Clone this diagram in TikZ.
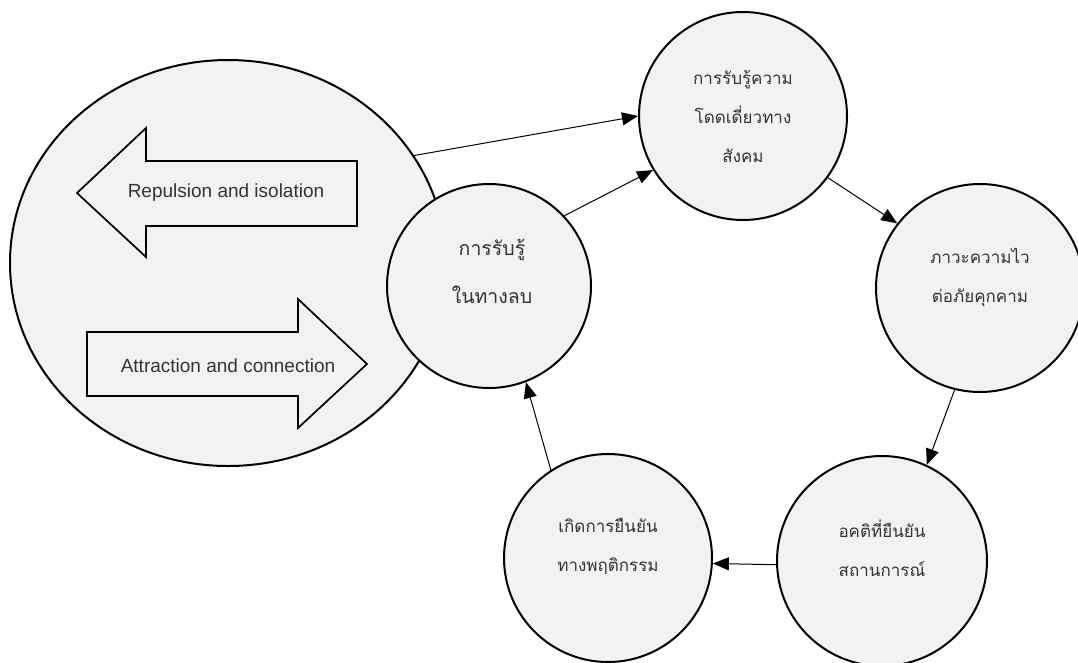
\documentclass[tikz,border=0pt]{standalone}
\usepackage{fontspec}
\setmainfont{Liberation Sans}
\newfontfamily\thai[Script=Thai]{Loma}
\usetikzlibrary{shapes.geometric,arrows.meta}
\definecolor{bubble}{HTML}{F2F2F2}
\definecolor{ink}{HTML}{333333}
\tikzset{
  stage/.style={circle, draw=black, line width=2pt, fill=bubble, minimum size=#1, inner sep=0pt},
  thaitext/.style={align=center, text=ink, font=\thai\fontsize{#1}{39}\selectfont, inner sep=0pt},
  flow/.style={line width=1pt, -{Triangle[length=16pt,width=13pt]}},
  blockarrow/.style={draw=black, line width=1.7pt, fill=bubble, line join=miter},
  arrowtext/.style={text=ink, font=\fontsize{19}{23}\selectfont, inner sep=0pt}
}
\begin{document}
\begin{tikzpicture}[x=1pt, y=-1pt]
  \useasboundingbox (0,0) rectangle (1078,662);

  % outer field with the two forces
  \node[ellipse, draw=black, line width=2pt, fill=bubble, minimum width=436pt, minimum height=406pt, inner sep=0pt] (field) at (228,263) {};
  \draw[blockarrow] (77,193) -- (146,128) -- (146,161) -- (357,161) -- (357,226) -- (146,226) -- (146,257) -- cycle;
  \node[arrowtext] (repel) at (226,193) {Repulsion and isolation};
  \draw[blockarrow] (87,332) -- (298,332) -- (298,299) -- (367,364) -- (298,428) -- (298,396) -- (87,396) -- cycle;
  \node[arrowtext] (attract) at (228,366) {Attraction and connection};

  % cycle stages
  \node[stage=204pt] (neg) at (489,286) {};
  \node[stage=208pt] (lonely) at (743,116) {};
  \node[stage=208pt] (threat) at (980,288) {};
  \node[stage=210pt] (bias) at (882,561) {};
  \node[stage=208pt] (behav) at (608,558) {};

  \node[thaitext=19, font=\thai\fontsize{19.5}{48}\selectfont] (negT) at (492,271) {การรับรู้\\ในทางลบ};
  \node[thaitext=17] (lonelyT) at (743,116) {การรับรู้ความ\\โดดเดี่ยวทาง\\สังคม};
  \node[thaitext=17] (threatT) at (980,278) {ภาวะความไว\\ต่อภัยคุกคาม};
  \node[thaitext=17] (biasT) at (882,548) {อคติที่ยืนยัน\\สถานการณ์};
  \node[thaitext=17] (behavT) at (608,546) {เกิดการยืนยัน\\ทางพฤติกรรม};

  % connectors
  \draw[flow] (field.30.7) -- (lonely.180);
  \draw[flow] (neg.43) -- (lonely.211.6);
  \draw[flow] (lonely.-36.3) -- (threat.142.8);
  \draw[flow] (threat.256.5) -- (bias.65.2);
  \draw[flow] (bias.182) -- (behav.-3);
  \draw[flow] (behav.123.7) -- (neg.-69.6);
\end{tikzpicture}
\end{document}
